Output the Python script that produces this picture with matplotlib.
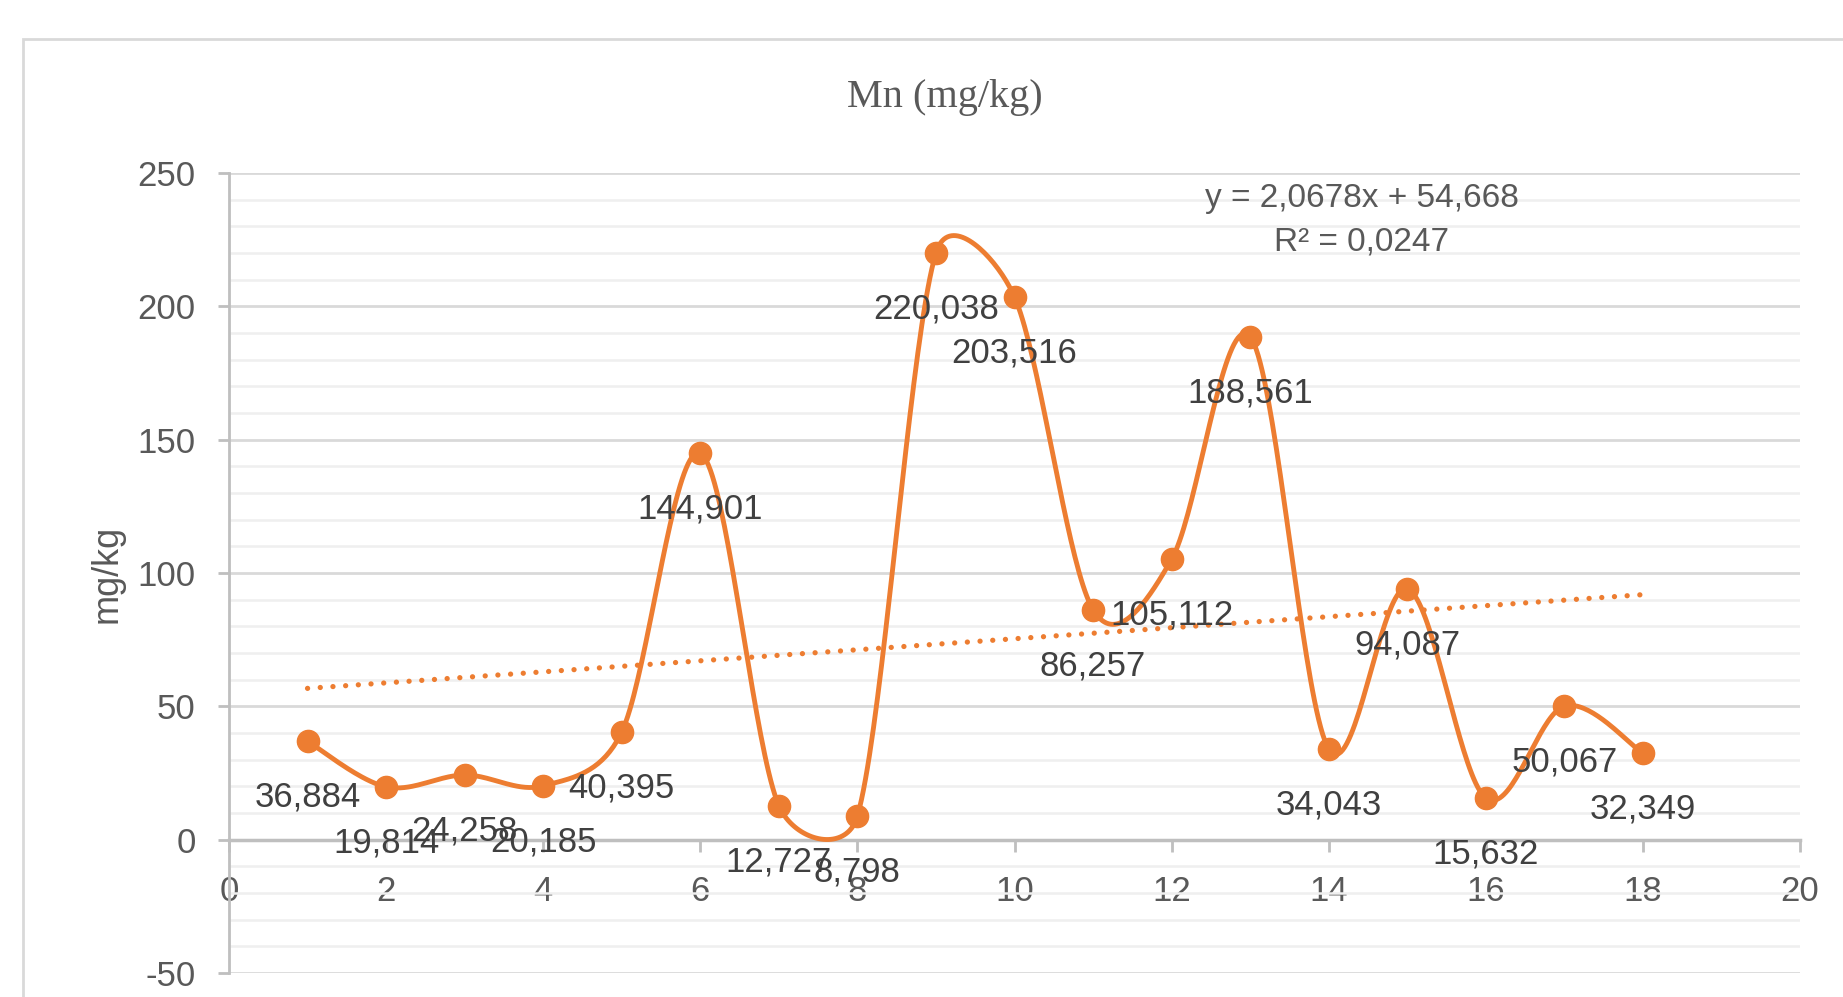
import numpy as np
import matplotlib
matplotlib.use("Agg")
import matplotlib.pyplot as plt
from matplotlib.patches import Rectangle
from matplotlib.ticker import MultipleLocator

# Mn content per sample (mg/kg)
sample = list(range(1, 19))
mn = [36.884, 19.814, 24.258, 20.185, 40.395, 144.901, 12.727, 8.798, 220.038,
      203.516, 86.257, 105.112, 188.561, 34.043, 94.087, 15.632, 50.067, 32.349]

ORANGE = "#ED7D31"
GREY_TXT = "#595959"
LABEL_TXT = "#404040"

plt.rcParams["font.family"] = ["Liberation Sans", "DejaVu Sans"]
plt.rcParams["axes.unicode_minus"] = False


def fmt(v, nd):
    return f"{v:.{nd}f}".replace(".", ",")


def smooth_line(ax, xs, ys, n=40):
    # bezier smoothing done in screen space; control arms are 1/6 of the
    # neighbour chord but never longer than half of the segment itself
    pts = ax.transData.transform(np.column_stack([xs, ys]))
    m = len(pts)
    out = [pts[0]]
    t = np.linspace(0, 1, n)[1:, None]
    for i in range(m - 1):
        p0 = pts[max(i - 1, 0)]
        p1 = pts[i]
        p2 = pts[i + 1]
        p3 = pts[min(i + 2, m - 1)]
        seg = np.hypot(*(p2 - p1))
        t1 = p2 - p0
        l1 = np.hypot(*t1)
        t2 = p3 - p1
        l2 = np.hypot(*t2)
        c1 = p1 + t1 / l1 * min(l1 / 6, seg / 2) if l1 else p1
        c2 = p2 - t2 / l2 * min(l2 / 6, seg / 2) if l2 else p2
        b = (1 - t) ** 3 * p1 + 3 * (1 - t) ** 2 * t * c1 + 3 * (1 - t) * t ** 2 * c2 + t ** 3 * p2
        out.extend(b)
    out = ax.transData.inverted().transform(np.array(out))
    return out[:, 0], out[:, 1]


fig = plt.figure(figsize=(18.43, 9.97), dpi=100)
ax = fig.add_axes([229 / 1843, 24 / 997, 1571 / 1843, 800 / 997])

# chart border
fig.patches.append(Rectangle((23 / 1843, -0.05), 1.1, (997 - 39) / 997 + 0.05,
                             transform=fig.transFigure, fill=False,
                             ec="#d9d9d9", lw=2))

ax.set_xlim(0, 20)
ax.set_ylim(-50, 250)
ax.xaxis.set_major_locator(MultipleLocator(2))
ax.yaxis.set_major_locator(MultipleLocator(50))
ax.yaxis.set_minor_locator(MultipleLocator(10))
ax.set_axisbelow(True)
ax.grid(axis="y", which="major", color="#d9d9d9", lw=2)
ax.grid(axis="y", which="minor", color="#efefef", lw=1.8)

for s in ("top", "right"):
    ax.spines[s].set_visible(False)
ax.spines["bottom"].set_position(("data", 0))
ax.spines["bottom"].set_color("#bfbfbf")
ax.spines["bottom"].set_linewidth(2.5)
ax.spines["left"].set_color("#bfbfbf")
ax.spines["left"].set_linewidth(2)

ax.tick_params(axis="y", which="minor", length=0)
ax.tick_params(axis="y", which="major", length=8, width=2, color="#bfbfbf",
               pad=16, labelsize=25, labelcolor=GREY_TXT)
ax.tick_params(axis="x", length=8.5, width=2, color="#bfbfbf",
               pad=17, labelsize=25, labelcolor=GREY_TXT)

# linear trend
slope, intercept = np.polyfit(sample, mn, 1)
fit = slope * np.array(sample) + intercept
r2 = 1 - np.sum((np.array(mn) - fit) ** 2) / np.sum((np.array(mn) - np.mean(mn)) ** 2)
xt = np.array([sample[0], sample[-1]])
ax.plot(xt, slope * xt + intercept, color=ORANGE, lw=3.8,
        linestyle=(0, (0.01, 2.4)), dash_capstyle="round", zorder=3)

# smoothed series with markers
sx, sy = smooth_line(ax, sample, mn)
ax.plot(sx, sy, color=ORANGE, lw=3.5, zorder=4, solid_capstyle="round")
ax.plot(sample, mn, "o", color=ORANGE, ms=16, zorder=4)

for x, v in zip(sample, mn):
    ax.annotate(fmt(v, 3), (x, v), xytext=(0, -56), textcoords="offset pixels",
                ha="center", va="center", fontsize=25, color=LABEL_TXT, zorder=6)

fig.text(1362 / 1843, 1 - 198 / 997,
         f"y = {fmt(slope, 4)}x + {fmt(intercept, 3)}",
         ha="center", va="center", fontsize=24, color=GREY_TXT)
fig.text(1362 / 1843, 1 - 242 / 997, f"R² = {fmt(r2, 4)}",
         ha="center", va="center", fontsize=24, color=GREY_TXT)

fig.text(945 / 1843, 1 - 98 / 997, "Mn (mg/kg)", ha="center", va="center",
         fontsize=29, color=GREY_TXT, family="Liberation Serif")
fig.text(107 / 1843, 1 - 574 / 997, "mg/kg", rotation=90, ha="center",
         va="center", fontsize=26, color=GREY_TXT)

fig.savefig("out.png", dpi=100)
